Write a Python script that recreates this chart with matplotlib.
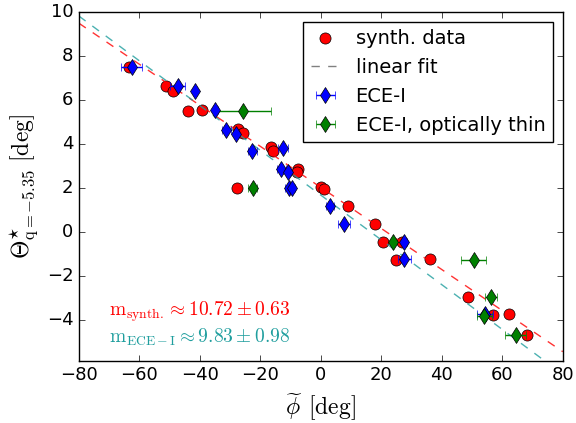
import numpy as np
import matplotlib
matplotlib.use("Agg")
import matplotlib.pyplot as plt

# synthetic data
synth_phi = [-63.4, -51.2, -48.9, -44.0, -39.2, -27.4, -25.6, -16.4, -15.9,
             -7.6, -7.8, -27.6, 0.2, 0.9, 9.1, 17.9, 20.5, 27.0, 24.8, 36.0,
             48.6, 57.0, 62.2, 68.1]
synth_theta = [7.5, 6.64, 6.38, 5.49, 5.53, 4.68, 4.5, 3.84, 3.68,
               2.84, 2.74, 1.99, 2.02, 1.96, 1.18, 0.35, -0.47, -0.45, -1.29, -1.25,
               -2.97, -3.79, -3.71, -4.7]

# ECE-I
ece_phi = [-62.5, -47.3, -41.6, -34.9, -31.3, -28.0, -22.6, -12.5, -13.1,
           -10.8, -10.5, -9.6, 3.0, 7.7, 27.6, 27.6, 54.3]
ece_theta = [7.5, 6.64, 6.38, 5.53, 4.65, 4.44, 3.67, 3.82, 2.85,
             2.73, 1.99, 1.99, 1.18, 0.35, -0.45, -1.25, -3.71]
ece_err = [3.5, 2.5, 0.8, 0.8, 1.5, 0.8, 1.5, 1.5, 1.5,
           0.8, 1.2, 1.2, 1.2, 2.0, 0.8, 2.2, 2.5]

# ECE-I, optically thin
thin_phi = [-25.7, -22.5, 24.0, 50.6, 56.3, 54.0, 64.5]
thin_theta = [5.49, 1.99, -0.47, -1.29, -2.97, -3.82, -4.7]
thin_err = [9.1, 1.5, 0.5, 4.1, 2.0, 2.5, 3.5]

# linear fits
slope_synth, icpt_synth = 10.72, 2.02
slope_ece, icpt_ece = 9.83, 1.67
teal = '#1f9e9e'

plt.style.use('classic')
plt.rcParams['xtick.labelsize'] = 13
plt.rcParams['ytick.labelsize'] = 13
fig = plt.figure(figsize=(5.76, 4.23), dpi=100, facecolor='w')
ax = fig.add_axes([0.137, 0.147, 0.840, 0.825])

ax.plot(synth_phi, synth_theta, 'o', color='r', markersize=8, label='synth. data')
ax.plot([], [], '--', color='gray', label='linear fit')

xfit = np.array([-80, 80])
ax.plot(xfit, icpt_synth - xfit / slope_synth, '--', color='r', lw=1, alpha=0.8)
ax.plot(xfit, icpt_ece - xfit / slope_ece, '--', color=teal, lw=1, alpha=0.8)

ax.errorbar(ece_phi, ece_theta, xerr=ece_err, fmt='d', color='b', ecolor='b',
            markersize=8, capsize=3, label='ECE-I')
ax.errorbar(thin_phi, thin_theta, xerr=thin_err, fmt='d', color='g', ecolor='g',
            markersize=8, capsize=3, label='ECE-I, optically thin')

ax.text(-70, -3.64, r'$\mathrm{m_{synth.}}\approx10.72\pm0.63$', color='r',
        fontsize=14, va='center')
ax.text(-70, -4.78, r'$\mathrm{m_{ECE-I}}\approx9.83\pm0.98$', color=teal,
        fontsize=14, va='center')

ax.set_xlim(-80, 80)
ax.set_ylim(-5.86, 10)
ax.set_xlabel(r'$\widetilde{\phi}\;\,[\mathrm{deg}]$', fontsize=17)
ax.set_ylabel(r'$\Theta^{\star}_{\mathrm{q=-5.35}}\ [\mathrm{deg}]$', fontsize=17)
ax.legend(loc='upper right', numpoints=1, fontsize=14, handlelength=1.5)

fig.savefig('out.png', dpi=100, facecolor='w')
